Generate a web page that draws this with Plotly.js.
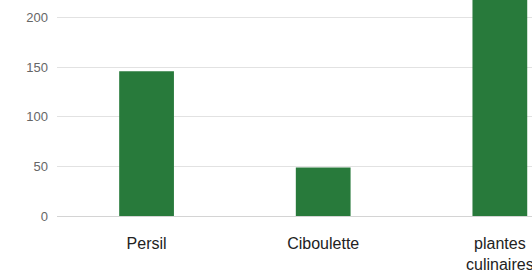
<!DOCTYPE html>
<html><head><meta charset="utf-8">
<script src="https://cdn.plot.ly/plotly-3.0.1.min.js"></script>
<style>html,body{margin:0;padding:0;background:#fff;overflow:hidden}#c{width:532px;height:275px}</style>
</head><body><div id="c"></div>
<script>
const categories = ["Persil", "Ciboulette", "plantes culinaires"];
const tickLabels = ["Persil", "Ciboulette", "plantes<br>culinaires"];
const values = [146, 49, 240];
const yTicks = [0, 50, 100, 150, 200];

Plotly.newPlot('c', [{
  type: 'bar', x: categories, y: values,
  marker: {color: '#287a3b', line: {width: 0}},
  width: 0.31, hoverinfo: 'none'
}], {
  width: 532, height: 275,
  margin: {l: 57, r: 0, t: 0, b: 59},
  paper_bgcolor: '#fff', plot_bgcolor: '#fff',
  showlegend: false,
  font: {family: 'Liberation Sans, Arial, sans-serif'},
  xaxis: {
    type: 'category', range: [-0.507, 2.182],
    tickvals: categories, ticktext: tickLabels,
    showgrid: false, showline: false, zeroline: false, ticks: '',
    tickfont: {size: 16, color: '#222'}, ticklabelstandoff: 16
  },
  yaxis: {
    range: [0, 218], tickvals: yTicks, ticktext: yTicks.map(String),
    showgrid: true, gridcolor: '#e2e2e2', gridwidth: 1,
    zeroline: true, zerolinecolor: '#d4d4d4', zerolinewidth: 1,
    showline: false, ticks: '', ticklabelstandoff: 8,
    tickfont: {size: 13, color: '#666'}
  }
}, {staticPlot: true, displayModeBar: false});
</script></body></html>
